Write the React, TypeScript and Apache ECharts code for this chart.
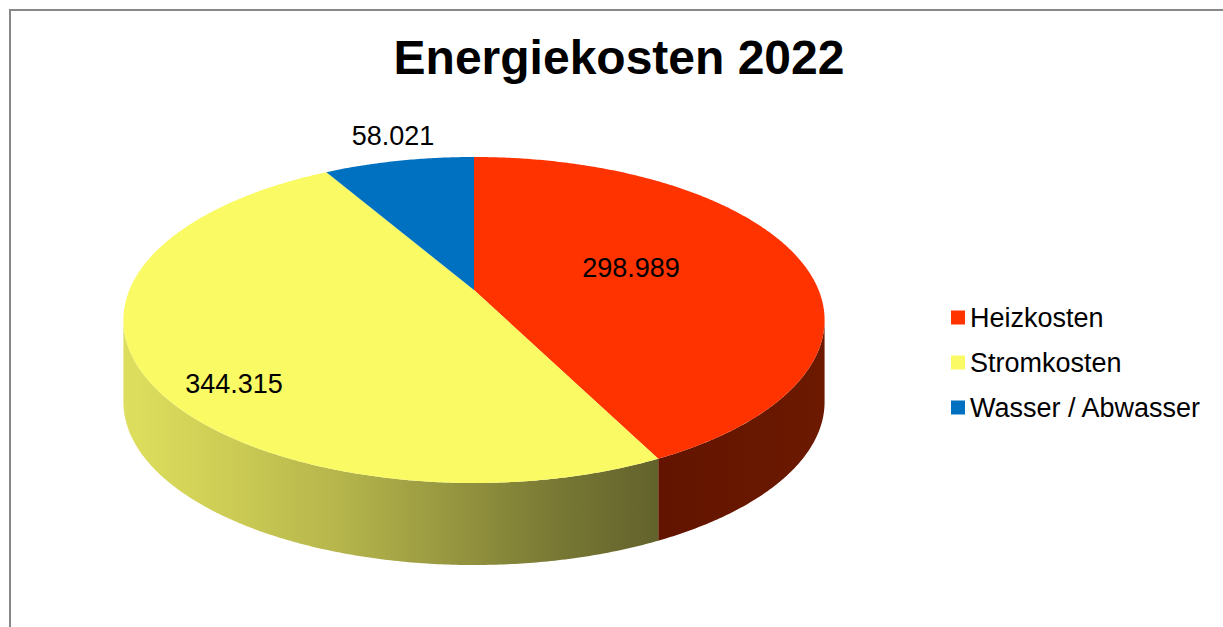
import React, { useEffect, useRef } from "react";
import * as echarts from "echarts";

// ---- data ----
const TITLE = "Energiekosten 2022";
const CATEGORIES = ["Heizkosten", "Stromkosten", "Wasser / Abwasser"];
const VALUES = [298989, 344315, 58021];

// ---- styles / layout ----
const TOP_COLORS = ["#FF3300", "#FAFA64", "#0070C0"];
const FONT = "Arial, 'Liberation Sans', sans-serif";
// projected 3D disc: centre, half-axes, perspective factor, depth
const CX = 474;
const CY = 290;
const RA = 344.6;
const RB = 157.5;
const PK = 0.184;
const DEPTH = 82;
// label anchors (text placement only)
const LABEL_POS: [number, number][] = [
  [631, 268],
  [234, 384],
  [393, 136],
];

const SIDE_FILLS: any[] = [
  {
    type: "linear", x: 655, y: 0, x2: 823, y2: 0, global: true,
    colorStops: [
      { offset: 0, color: "#621400" },
      { offset: 1, color: "#6C1900" },
    ],
  },
  {
    type: "linear", x: 125, y: 0, x2: 658, y2: 0, global: true,
    colorStops: [
      { offset: 0, color: "#DEDE5E" },
      { offset: 0.14, color: "#D2D258" },
      { offset: 0.42, color: "#B3B34B" },
      { offset: 0.8, color: "#7A7A35" },
      { offset: 1, color: "#62622C" },
    ],
  },
  "#003A66",
];

const fmt = (v: number) => String(v).replace(/\B(?=(\d{3})+(?!\d))/g, ".");

function project(theta: number, r = 1, dy = 0): [number, number] {
  const c = Math.cos(theta);
  const s = Math.sin(theta);
  const den = 1 + PK * r * s;
  return [CX + (RA * r * c) / den, CY - (RB * r * s) / den + dy];
}

function arcPoints(from: number, to: number, dy = 0): [number, number][] {
  const pts: [number, number][] = [];
  const n = Math.max(2, Math.ceil(Math.abs(to - from) / (Math.PI / 360)));
  for (let i = 0; i <= n; i++) {
    const t = from + ((to - from) * i) / n;
    pts.push(project(t, 1, dy));
  }
  return pts;
}

function sliceAngles(i: number): [number, number] {
  const total = VALUES.reduce((a, b) => a + b, 0);
  let cum = 0;
  for (let j = 0; j < i; j++) cum += VALUES[j];
  const a0 = Math.PI / 2 - (cum / total) * Math.PI * 2;
  const a1 = a0 - (VALUES[i] / total) * Math.PI * 2;
  return [a0, a1];
}

function makeRender(i: number) {
  return (params: any, api: any) => {
    const [a0, a1] = sliceAngles(i);
    const children: any[] = [];
    // visible front side
    const fLo = -Math.PI + Math.asin(PK);
    const fHi = -Math.asin(PK);
    for (const sh of [-2 * Math.PI, 0, 2 * Math.PI]) {
      const lo = Math.max(a1, fLo + sh);
      const hi = Math.min(a0, fHi + sh);
      if (hi > lo) {
        const top = arcPoints(lo, hi, 0);
        const bot = arcPoints(hi, lo, DEPTH);
        children.push({
          type: "polygon",
          shape: { points: top.concat(bot) },
          style: { fill: SIDE_FILLS[i], stroke: null },
          z2: 1,
        });
      }
    }
    // top face
    const face = [[CX, CY] as [number, number]].concat(arcPoints(a0, a1, 0));
    children.push({
      type: "polygon",
      shape: { points: face },
      style: { fill: TOP_COLORS[i], stroke: null },
      z2: 2,
    });
    children.push({
      type: "text",
      x: LABEL_POS[i][0],
      y: LABEL_POS[i][1],
      style: {
        text: fmt(api.value(0)),
        fill: "#000",
        fontSize: 27,
        fontFamily: FONT,
        align: "center",
        verticalAlign: "middle",
      },
      z2: 3,
    });
    return { type: "group", children };
  };
}

export default function App() {
  const ref = useRef<HTMLDivElement>(null);
  useEffect(() => {
    if (!ref.current) return;
    const chart = echarts.init(ref.current, null, { renderer: "svg" });
    chart.setOption({
      animation: false,
      backgroundColor: "#ffffff",
      title: {
        text: TITLE,
        left: 619,
        top: 33,
        padding: 0,
        textAlign: "center",
        textStyle: { fontSize: 48, fontWeight: "bold", fontFamily: FONT, color: "#000" },
      },
      legend: {
        orient: "vertical",
        left: 951,
        top: 304,
        padding: 0,
        icon: "rect",
        itemWidth: 14,
        itemHeight: 14,
        itemGap: 18,
        selectedMode: false,
        data: CATEGORIES,
        textStyle: { fontSize: 27, fontFamily: FONT, color: "#000", lineHeight: 27 },
      },
      graphic: [
        {
          type: "rect",
          shape: { x: 10, y: 10, width: 1300, height: 700 },
          style: { fill: "none", stroke: "#888888", lineWidth: 2 },
          silent: true,
        },
      ],
      series: CATEGORIES.map((name, i) => ({
        type: "custom",
        name,
        coordinateSystem: "none",
        itemStyle: { color: TOP_COLORS[i] },
        data: [VALUES[i]],
        renderItem: makeRender(i),
      })),
    });
    return () => chart.dispose();
  }, []);
  return (
    <div
      ref={ref}
      style={{ position: "absolute", left: 0, top: 0, width: 1223, height: 627, background: "#fff" }}
    />
  );
}
